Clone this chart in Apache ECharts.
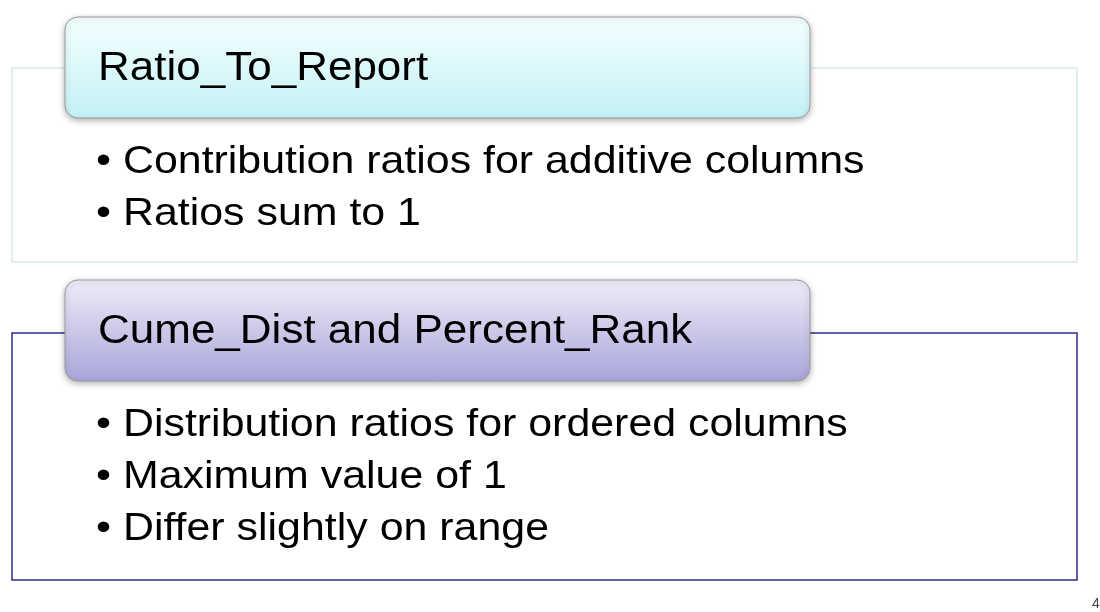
<!DOCTYPE html>
<html>
<head>
<meta charset="utf-8">
<script src="https://cdn.jsdelivr.net/npm/echarts@6/dist/echarts.min.js"></script>
<style>html,body{margin:0;background:#fff}#main{width:1100px;height:612px}</style>
</head>
<body>
<div id="main"></div>
<script>
var titles = ['Ratio_To_Report', 'Cume_Dist and Percent_Rank'];
var bullets1 = ['Contribution ratios for additive columns', 'Ratios sum to 1'];
var bullets2 = ['Distribution ratios for ordered columns', 'Maximum value of 1', 'Differ slightly on range'];

var chart = echarts.init(document.getElementById('main'));
var font = '"Liberation Sans", Arial, sans-serif';

function section(top, boxTop, boxH, border, gradTop, gradBot, title, items, bulletTop) {
  var els = [];
  els.push({ type: 'rect', shape: { x: 12, y: boxTop, width: 1065, height: boxH },
    style: { fill: '#fff', stroke: border, lineWidth: 1.5 } });
  els.push({ type: 'rect', shape: { x: 65, y: top, width: 745, height: 101, r: 13 },
    style: { fill: new echarts.graphic.LinearGradient(0, 0, 0, 1, [
      { offset: 0, color: gradTop }, { offset: 1, color: gradBot }]),
      stroke: '#9a9a9a', lineWidth: 1, shadowBlur: 6, shadowColor: 'rgba(0,0,0,0.3)', shadowOffsetY: 2 } });
  els.push({ type: 'text', x: 98, y: top + 52, scaleX: 1.1, style: { text: title, font: '40px ' + font,
    fill: '#000', verticalAlign: 'middle' } });
  items.forEach(function (t, i) {
    els.push({ type: 'text', x: 96, y: bulletTop + i * 52, scaleX: 1.1, style: { text: '\u2022 ' + t,
      font: '39px ' + font, fill: '#000', verticalAlign: 'middle' } });
  });
  return els;
}

var g = [].concat(
  section(17, 68, 194, '#d3ebe8', '#f4ffff', '#c4f1f6', titles[0], bullets1, 162),
  section(280, 333, 247, '#2b2d8a', '#eeedf8', '#a9a4da', titles[1], bullets2, 425)
);
g.push({ type: 'text', x: 1092, y: 604, style: { text: '4', font: '14px ' + font, fill: '#444', verticalAlign: 'middle' } });

chart.setOption({ animation: false, graphic: g });
</script>
</body>
</html>
